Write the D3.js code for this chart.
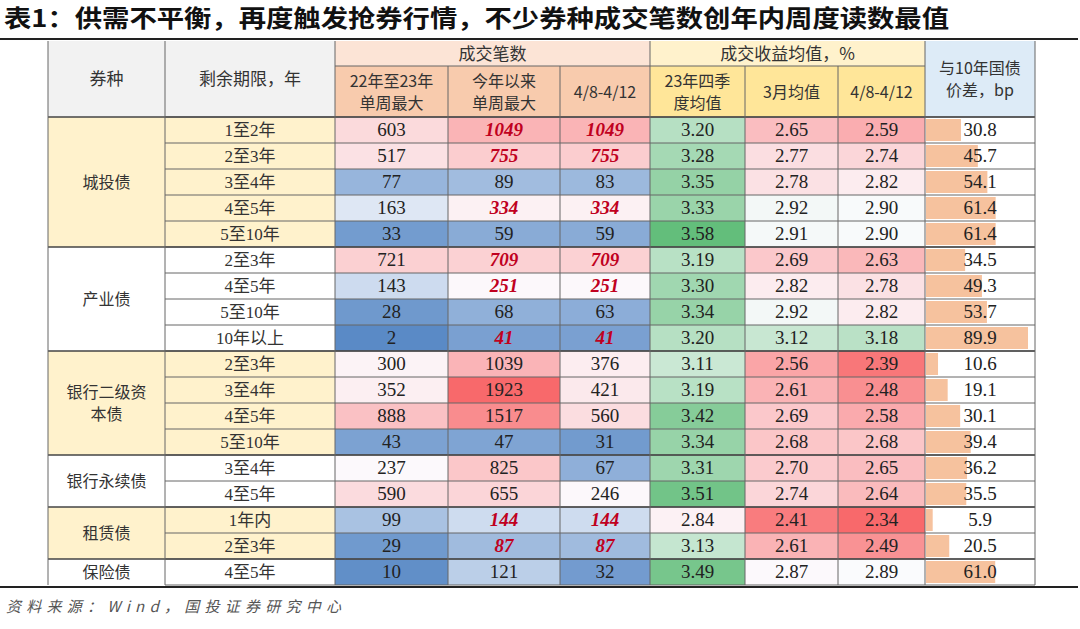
<!DOCTYPE html>
<html><head><meta charset="utf-8">
<script src="https://cdn.jsdelivr.net/npm/d3@7"></script>
<style>body{margin:0;background:#fff}</style>
</head><body>
<svg id="chart" width="1080" height="629"></svg>
<script>
const title = "表1：供需不平衡，再度触发抢券行情，不少券种成交笔数创年内周度读数最值";
const source = "资料来源：Wind，国投证券研究中心";
const groups = [
  {name: "城投债", n: 5, shade: true},
  {name: "产业债", n: 4, shade: false},
  {name: "银行二级资\n本债", n: 4, shade: true},
  {name: "银行永续债", n: 2, shade: false},
  {name: "租赁债", n: 2, shade: true},
  {name: "保险债", n: 1, shade: false}
];
const terms = ["1至2年","2至3年","3至4年","4至5年","5至10年","2至3年","4至5年","5至10年","10年以上",
  "2至3年","3至4年","4至5年","5至10年","3至4年","4至5年","1年内","2至3年","4至5年"];
const countMax2223 = [603,517,77,163,33,721,143,28,2,300,352,888,43,237,590,99,29,10];
const countMaxYtd = [1049,755,89,334,59,709,251,68,41,1039,1923,1517,47,825,655,144,87,121];
const countWeek = [1049,755,83,334,59,709,251,63,41,376,421,560,31,67,246,144,87,32];
const highlight = [1,1,0,1,0,1,1,0,1,0,0,0,0,0,0,1,1,0];
const yieldQ4 = [3.20,3.28,3.35,3.33,3.58,3.19,3.30,3.34,3.20,3.11,3.19,3.42,3.34,3.31,3.51,2.84,3.13,3.49];
const yieldMar = [2.65,2.77,2.78,2.92,2.91,2.69,2.82,2.92,3.12,2.56,2.61,2.69,2.68,2.70,2.74,2.41,2.61,2.87];
const yieldWeek = [2.59,2.74,2.82,2.90,2.90,2.63,2.78,2.82,3.18,2.39,2.48,2.58,2.68,2.65,2.64,2.34,2.49,2.89];
const spread = [30.8,45.7,54.1,61.4,61.4,34.5,49.3,53.7,89.9,10.6,19.1,30.1,39.4,36.2,35.5,5.9,20.5,61.0];

const svg = d3.select("#chart");
const cn = "'Noto Sans CJK SC', sans-serif";
const num = "'Liberation Serif', 'DejaVu Serif', serif";
const edges = [48,165,335,448,560,650,745,838,925,1035];
const top0 = 41, hMid = 66, hBot = 117, rowH = 26;
const nRows = terms.length;
const y = d3.scaleBand().domain(d3.range(nRows)).range([hBot, hBot + rowH * nRows]);

svg.append("text").attr("x", 4).attr("y", 27).text(title)
  .attr("textLength", 945).attr("lengthAdjust", "spacingAndGlyphs")
  .style("font-family", cn).style("font-size", "24px").style("font-weight", "bold").attr("fill", "#111");
svg.append("text").attr("x", 6).attr("y", 612).text(source)
  .attr("textLength", 335).attr("lengthAdjust", "spacing")
  .style("font-family", cn).style("font-size", "15px").style("font-style", "italic").attr("fill", "#555");

// color scales
const allCounts = countMax2223.concat(countMaxYtd, countWeek);
const cScale = d3.scaleLinear().domain([d3.min(allCounts), d3.median(allCounts), d3.max(allCounts)])
  .range(["#5a8ac6", "#fcfcff", "#f8696b"]);
const allYields = yieldQ4.concat(yieldMar, yieldWeek);
const yScale = d3.scaleLinear().domain([d3.min(allYields), 2.88, d3.max(allYields)])
  .range(["#f8696b", "#fcfcff", "#63be7b"]);
const bar = d3.scaleLinear().domain([0, d3.max(spread)]).range([0, edges[9] - edges[8] - 8]);

function cell(x0, x1, y0, y1, fill) {
  svg.append("rect").attr("x", x0).attr("y", y0).attr("width", x1 - x0).attr("height", y1 - y0).attr("fill", fill);
}
function label(txt, cx, cy, opts = {}) {
  const lines = txt.split("\n");
  const t = svg.append("text").attr("text-anchor", "middle")
    .style("font-family", opts.font || cn).style("font-size", (opts.size || 17) + "px")
    .attr("fill", opts.color || "#333");
  if (opts.bold) t.style("font-weight", "bold");
  if (opts.italic) t.style("font-style", "italic");
  lines.forEach((l, i) => t.append("tspan").attr("x", cx)
    .attr("y", cy + (i - (lines.length - 1) / 2) * 22 + 6).text(l));
}
// header
cell(edges[0], edges[2], top0, hBot, "#f2f2f2");
cell(edges[2], edges[5], top0, hMid, "#fce4d6");
cell(edges[2], edges[5], hMid, hBot, "#f8cbad");
cell(edges[5], edges[8], top0, hMid, "#fff2cc");
cell(edges[5], edges[8], hMid, hBot, "#ffe699");
cell(edges[8], edges[9], top0, hBot, "#ddebf7");
label("券种", (edges[0] + edges[1]) / 2, (top0 + hBot) / 2);
label("剩余期限，年", (edges[1] + edges[2]) / 2, (top0 + hBot) / 2);
label("成交笔数", (edges[2] + edges[5]) / 2, (top0 + hMid) / 2);
label("成交收益均值，%", (edges[5] + edges[8]) / 2, (top0 + hMid) / 2);
label("与10年国债\n价差，bp", (edges[8] + edges[9]) / 2, (top0 + hBot) / 2, {size: 16});
const subs = ["22年至23年\n单周最大", "今年以来\n单周最大", "4/8-4/12", "23年四季\n度均值", "3月均值", "4/8-4/12"];
subs.forEach((s, i) => label(s, (edges[i + 2] + edges[i + 3]) / 2, (hMid + hBot) / 2, {size: 16}));

// body
let r0 = 0;
groups.forEach(g => {
  cell(edges[0], edges[2], y(r0), y(r0) + rowH * g.n, g.shade ? "#fff2cc" : "#ffffff");
  label(g.name, (edges[0] + edges[1]) / 2, y(r0) + rowH * g.n / 2, {size: 16});
  r0 += g.n;
});
const cols = [countMax2223, countMaxYtd, countWeek, yieldQ4, yieldMar, yieldWeek];
terms.forEach((t, i) => {
  label(t, (edges[1] + edges[2]) / 2, y(i) + rowH / 2, {font: num + "," + cn});
  cols.forEach((col, c) => {
    const v = col[i];
    const isCount = c < 3;
    cell(edges[c + 2], edges[c + 3], y(i), y(i) + rowH, isCount ? cScale(v) : yScale(v));
    const hl = (c === 1 || c === 2) && highlight[i];
    label(isCount ? String(v) : v.toFixed(2), (edges[c + 2] + edges[c + 3]) / 2, y(i) + rowH / 2,
      {font: num, size: 19, color: hl ? "#c00020" : "#222", bold: hl, italic: hl});
  });
  svg.append("rect").attr("x", edges[8] + 1).attr("y", y(i) + 2).attr("width", bar(spread[i]))
    .attr("height", rowH - 4).attr("fill", "#f6c29e");
  label(spread[i].toFixed(1), (edges[8] + edges[9]) / 2, y(i) + rowH / 2, {font: num, size: 19, color: "#222"});
});

// grid lines
const bot = y(nRows - 1) + rowH;
const line = (x1, y1, x2, y2, w = 1, c = "#555") => svg.append("line")
  .attr("x1", x1).attr("y1", y1).attr("x2", x2).attr("y2", y2).attr("stroke", c).attr("stroke-width", w);
d3.range(nRows + 1).forEach(i => line(edges[1], hBot + i * rowH, edges[9], hBot + i * rowH, 1, "#666"));
r0 = 0;
groups.forEach(g => { line(edges[0], y(r0), edges[9], y(r0), 1.3, "#444"); r0 += g.n; });
line(edges[2], hMid, edges[8], hMid, 1, "#666");
edges.forEach((x, i) => {
  const y0 = (i >= 3 && i <= 7 && i !== 5) ? hMid : top0;
  line(x, y0, x, bot, 1, "#666");
});
line(0, 39, 1078, 39, 2, "#222");
line(0, bot + 2, 1078, bot + 2, 2, "#222");
</script>
</body></html>
